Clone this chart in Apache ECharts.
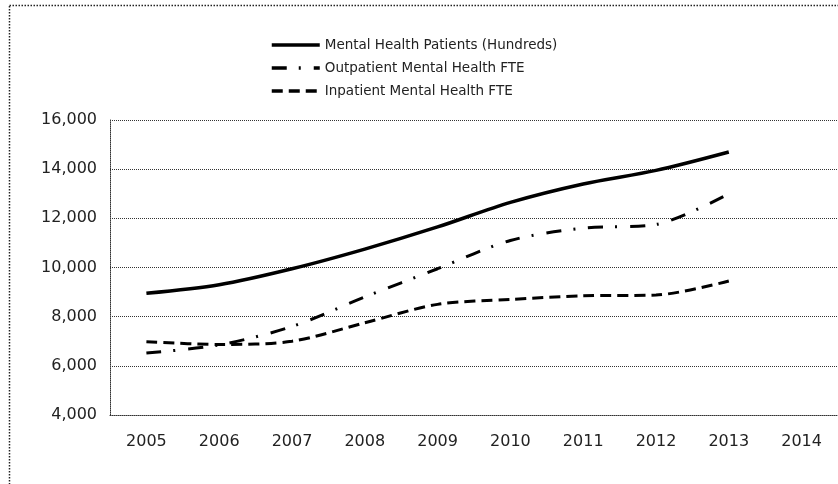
<!DOCTYPE html>
<html>
<head>
<meta charset="utf-8">
<script src="https://cdn.jsdelivr.net/npm/echarts@6/dist/echarts.min.js"></script>
<style>
  html, body { margin: 0; padding: 0; background: #fff; }
  #chart { width: 838px; height: 484px; }
</style>
</head>
<body>
<div id="chart"></div>
<script>
// years on the x axis (2014 has no data)
const years = ['2005', '2006', '2007', '2008', '2009', '2010', '2011', '2012', '2013', '2014'];

const patients = [8950, 9300, 9950, 10750, 11650, 12650, 13400, 13950, 14700];
const outpatientFte = [6520, 6850, 7600, 8800, 9950, 11100, 11600, 11750, 13000];
const inpatientFte = [6980, 6870, 7000, 7750, 8500, 8700, 8850, 8880, 9450];

const chart = echarts.init(document.getElementById('chart'));
const font = 'DejaVu Sans';

function lineSeries(name, data, type, width) {
  return {
    name: name,
    type: 'line',
    data: data,
    smooth: 0.3,
    symbol: 'none',
    lineStyle: { color: '#000', width: width, type: type },
    itemStyle: { color: '#000' },
    emphasis: { disabled: true }
  };
}

chart.setOption({
  animation: false,
  graphic: [{
    type: 'rect',
    shape: { x: 9.5, y: 5.5, width: 840, height: 490 },
    style: { fill: 'none', stroke: '#222', lineWidth: 1.5, lineDash: [1.5, 1.5] }
  }],
  legend: {
    orient: 'vertical',
    left: 265,
    top: 33,
    itemWidth: 48,
    itemHeight: 14,
    itemGap: 9,
    itemStyle: { opacity: 0 },
    lineStyle: { width: 3.5 },
    textStyle: { fontFamily: font, fontSize: 13.5, color: '#222' },
    data: ['Mental Health Patients (Hundreds)', 'Outpatient Mental Health FTE', 'Inpatient Mental Health FTE']
  },
  grid: { left: 110, top: 120, width: 730, bottom: 69 },
  xAxis: {
    type: 'category',
    data: years,
    boundaryGap: true,
    axisLine: { show: true, lineStyle: { color: '#333', type: [1, 1] } },
    axisTick: { show: false },
    axisLabel: { fontFamily: font, fontSize: 16, color: '#222', margin: 19 }
  },
  yAxis: {
    type: 'value',
    min: 4000,
    max: 16000,
    interval: 2000,
    axisLine: { show: true, lineStyle: { color: '#333', type: [1, 1] } },
    axisTick: { show: false },
    splitLine: { lineStyle: { color: '#333', type: [1, 1] } },
    axisLabel: {
      fontFamily: font, fontSize: 16, color: '#222', margin: 13,
      formatter: v => v.toLocaleString('en-US')
    }
  },
  series: [
    lineSeries('Mental Health Patients (Hundreds)', patients, 'solid', 3.5),
    lineSeries('Outpatient Mental Health FTE', outpatientFte, [15, 12, 2, 13], 3),
    lineSeries('Inpatient Mental Health FTE', inpatientFte, [11, 6], 3)
  ]
});
</script>
</body>
</html>
